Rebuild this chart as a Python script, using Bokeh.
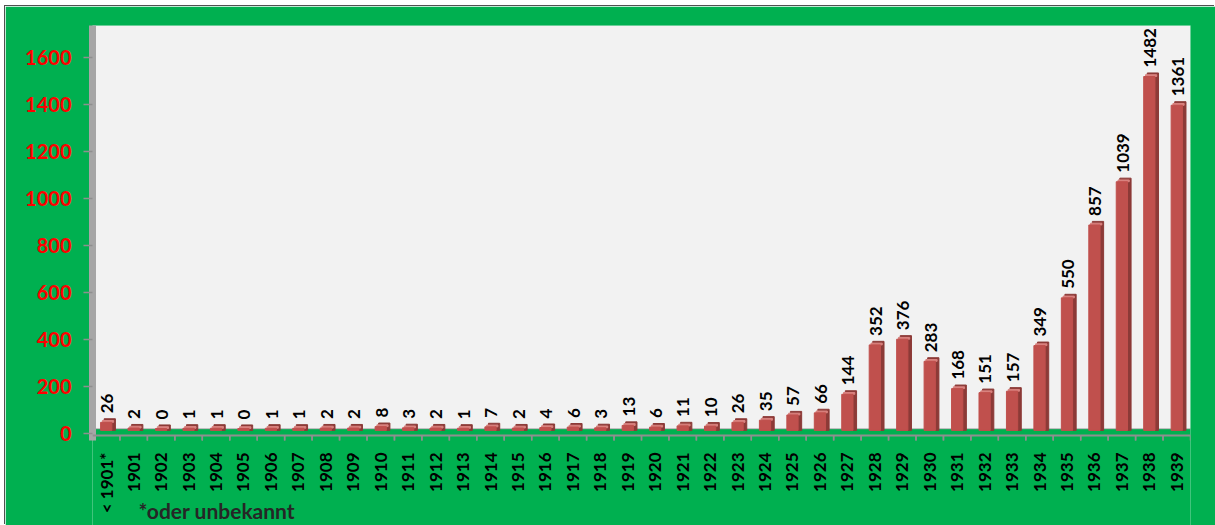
import math
from bokeh.plotting import figure
from bokeh.layouts import column, row
from bokeh.models import (ColumnDataSource, Range1d, FactorRange, FixedTicker, Spacer,
                          Label, BoxAnnotation, Span)
from bokeh.transform import dodge
from bokeh.embed import file_html
from bokeh.resources import INLINE
from bokeh.core.properties import value

years = ["< 1901*", "1901", "1902", "1903", "1904", "1905", "1906", "1907", "1908", "1909",
         "1910", "1911", "1912", "1913", "1914", "1915", "1916", "1917", "1918", "1919",
         "1920", "1921", "1922", "1923", "1924", "1925", "1926", "1927", "1928", "1929",
         "1930", "1931", "1932", "1933", "1934", "1935", "1936", "1937", "1938", "1939"]
counts = [26, 2, 0, 1, 1, 0, 1, 1, 2, 2,
          8, 3, 2, 1, 7, 2, 4, 6, 3, 13,
          6, 11, 10, 26, 35, 57, 66, 144, 352, 376,
          283, 168, 151, 157, 349, 550, 857, 1039, 1482, 1361]
y_ticks = [0, 200, 400, 600, 800, 1000, 1200, 1400, 1600]
footnote = "*oder unbekannt"

# styling constants (value units of the back-wall scale)
DEPTH = 15           # 3D depth of the bars
FLOOR_FRONT = -29.5  # front edge of the floor
TICK = 21            # length of category separator ticks
BAR_W = 0.41

src = ColumnDataSource(dict(
    x=years,
    top=counts,
    side_top=[c + DEPTH for c in counts],
    cap_top=[c + DEPTH / 2 for c in counts],
    label=[str(c) for c in counts],
    zero=[0] * len(years),
    f0=[FLOOR_FRONT] * len(years),
    f1=[FLOOR_FRONT - TICK] * len(years),
))

# primary y range = front scale (red tick labels); "back" = wall scale (grid, bars)
p = figure(width=1210, height=519, output_backend="svg", toolbar_location=None,
           x_range=FactorRange(*years, range_padding=0), y_range=Range1d(-391.5, 1736),
           x_axis_location=None,
           min_border_left=87, min_border_right=25, min_border_top=19, min_border_bottom=0)
p.extra_y_ranges = {"back": Range1d(-408.4, 1696.8)}
p.border_fill_color = "#00B050"
p.background_fill_color = "#00B050"
p.outline_line_color = None
p.styles = {"box-shadow": "-1px -1px 0 0 #505050"}

# back wall
p.add_layout(BoxAnnotation(bottom=0, y_range_name="back", fill_color="#F2F2F2",
                           fill_alpha=1.0, line_color=None, level="underlay"))

# grid (on the back wall)
p.xgrid.grid_line_color = None
p.ygrid.y_range_name = "back"
p.ygrid.ticker = FixedTicker(ticks=y_ticks)
p.ygrid.grid_line_color = "#8F8F8F"
p.ygrid.grid_line_width = 1.5

# floor front edge and category separators
p.add_layout(Span(location=FLOOR_FRONT, dimension="width", y_range_name="back",
                  line_color="#8F8F8F", line_width=2))
p.segment(x0=dodge("x", -0.5, range=p.x_range), y0="f0",
          x1=dodge("x", -0.5, range=p.x_range), y1="f1",
          source=src, line_color="#8F8F8F", line_width=1.5, y_range_name="back")
p.segment(x0=dodge("x", 0.5, range=p.x_range), y0="f0",
          x1=dodge("x", 0.5, range=p.x_range), y1="f1",
          source=src, line_color="#8F8F8F", line_width=1.5, y_range_name="back")

# 3D bars: side, top cap, front
p.vbar(x=dodge("x", 0.13, range=p.x_range), bottom=-8, top="side_top", width=BAR_W,
       source=src, color="#8C3A37", y_range_name="back")
p.vbar(x=dodge("x", 0.065, range=p.x_range), bottom="top", top="cap_top", width=BAR_W,
       source=src, color="#D9827F", y_range_name="back")
p.vbar(x=dodge("x", 0.0, range=p.x_range), bottom=-8, top="top", width=BAR_W,
       source=src, color="#C0504D", y_range_name="back")

# value labels
p.text(x=dodge("x", 0.03, range=p.x_range), y="top", text="label", source=src,
       angle=math.pi / 2, text_align="left", text_baseline="middle", y_offset=-9,
       text_font=value("Lato"), text_font_style="bold", text_font_size="17px",
       text_color="#000000", y_range_name="back")

# category labels
p.text(x="x", y="zero", text="x", source=src,
       angle=math.pi / 2, text_align="right", text_baseline="middle", y_offset=24,
       text_font=value("Lato"), text_font_style="bold", text_font_size="17px",
       text_color="#000000", y_range_name="back")

# y axis (the grey side wall)
p.yaxis.ticker = FixedTicker(ticks=y_ticks)
p.yaxis.bounds = (-30, 1736)
p.yaxis.axis_line_color = "#A6A6A6"
p.yaxis.axis_line_width = 7
p.yaxis.major_tick_line_color = "#8F8F8F"
p.yaxis.major_tick_line_width = 1.5
p.yaxis.major_tick_out = 9
p.yaxis.major_tick_in = 0
p.yaxis.minor_tick_line_color = None
p.yaxis.major_label_standoff = 12
p.yaxis.major_label_text_color = "#FF0000"
p.yaxis.major_label_text_font = "Lato"
p.yaxis.major_label_text_font_style = "bold"
p.yaxis.major_label_text_font_size = "20px"

p.add_layout(Label(x=46, y=15, x_units="screen", y_units="screen", text=footnote,
                   text_font="Lato", text_font_style="bold", text_font_size="21px",
                   text_color="#262626", text_baseline="middle"))

layout = column(Spacer(height=6), row(Spacer(width=5), p))
open("out.html", "w").write(file_html(layout, INLINE))
